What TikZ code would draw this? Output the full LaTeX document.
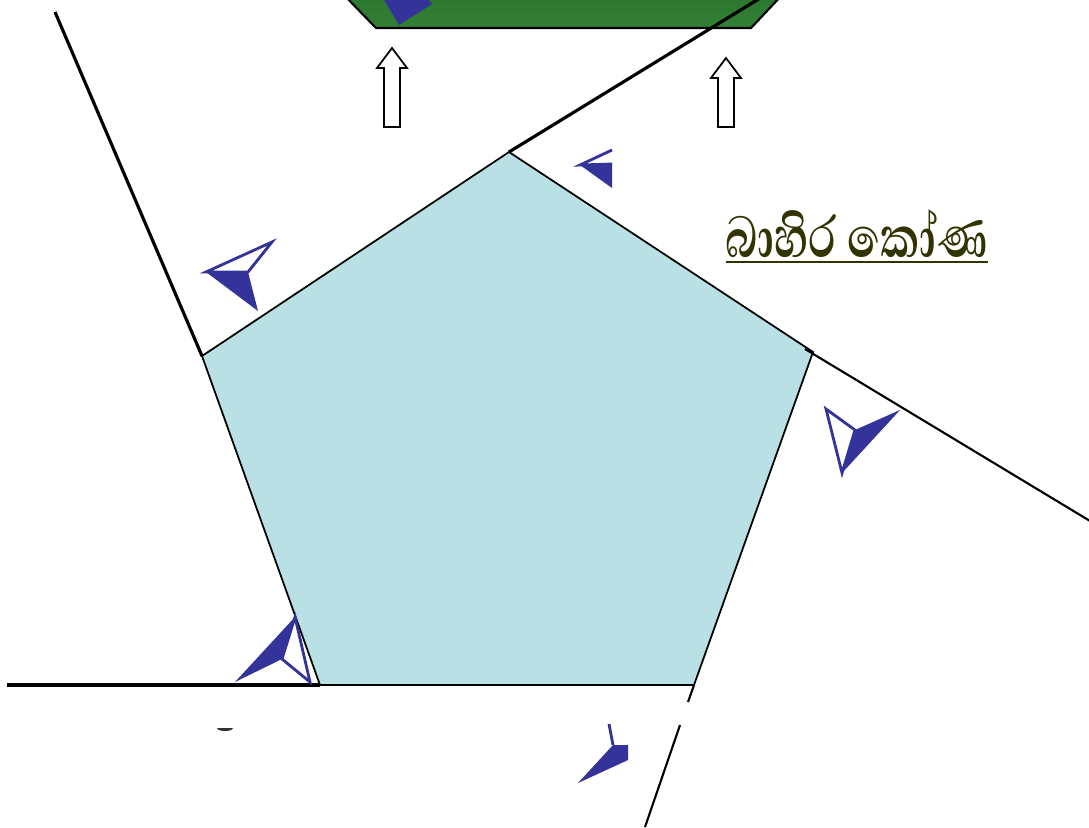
\documentclass[tikz,border=0pt]{standalone}
\usepackage{fontspec}
\newfontfamily\sinhalafont[Script=Sinhala]{Abhaya Libre}
\usetikzlibrary{calc}
\definecolor{colPent}  {RGB}{185,224,228}
\definecolor{colGreen} {RGB}{50,128,52}
\definecolor{colGreenD}{RGB}{44,118,47}
\definecolor{colMark}  {RGB}{51,51,153}
\definecolor{colLabel} {RGB}{51,51,0}
\tikzset{
  edge/.style   = {draw=black, line width=0.5pt},
  ext/.style    = {draw=black, line width=0.9pt},
  extthin/.style= {draw=black, line width=0.6pt},
  mkline/.style = {draw=colMark, line width=0.8pt, line join=miter},
  mkfill/.style = {fill=colMark},
  hollow/.style = {draw=black, fill=white, line width=0.5pt},
  lbl/.style    = {font=\sinhalafont\bfseries\fontsize{21}{25}\selectfont, text=colLabel,
                   inner sep=0pt, anchor=base west},
}

\begin{document}
\begin{tikzpicture}[x=0.01cm, y=-0.01cm]

%% ── frame ───────────────────────────────────────────────────────────────────
\clip (0,0) rectangle (1089,827);
\fill[white] (0,0) rectangle (1089,827);

%% ── pentagon corners ────────────────────────────────────────────────────────
\coordinate (pT)  at (509,152);
\coordinate (pR)  at (813,352);
\coordinate (pBR) at (694,685);
\coordinate (pBL) at (320,685);
\coordinate (pL)  at (202,356);

%% ── top tray ────────────────────────────────────────────────────────────────
\shade[top color=colGreenD, bottom color=colGreen]
  (343,-6) -- (376,28) -- (751,28) -- (783,-6) -- cycle;
\draw[line width=0.6pt] (343,-6) -- (376,28) -- (751,28) -- (783,-6);
\fill[colMark] (383,-2) -- (399,25) -- (432,4) -- (427,-2) -- cycle;

%% ── pentagon ────────────────────────────────────────────────────────────────
\fill[colPent] (pT) -- (pR) -- (pBR) -- (pBL) -- (pL) -- cycle;
\draw[edge] (pT) -- (pR) -- (pBR) -- (pBL) -- (pL) -- cycle;

%% ── extended sides ──────────────────────────────────────────────────────────
\coordinate (eL)  at (55,12);
\coordinate (eT)  at (770,-8);
\coordinate (eR)  at (1095,524);
\coordinate (eB)  at (7,685);
\coordinate (eBRa) at (688,702);
\coordinate (eBRb) at (680,725);
\coordinate (eBR) at (645,827);
\draw[ext] (pL) -- (eL);
\draw[ext] (pT) -- (eT);
\draw[extthin] (805,349) -- (eR);
\draw[ext] (pBL) -- (eB);
\draw[extthin] (pBR) -- (eBRa);
\draw[extthin] (eBRb) -- (eBR);

%% ── up arrows ───────────────────────────────────────────────────────────────
\draw[hollow] (392,48) -- (407,68) -- (400,68) -- (400,127) -- (384,127)
  -- (384,68) -- (377,68) -- cycle;
\draw[hollow] (726,58) -- (741,78) -- (734,78) -- (734,127) -- (718,127)
  -- (718,78) -- (711,78) -- cycle;

%% ── angle marks ─────────────────────────────────────────────────────────────
% left corner
\fill[mkfill] (206,272) -- (248,272) -- (258,311) -- cycle;
\draw[mkline] (206,272) -- (272,242) -- (248,272) -- cycle;
% top corner
\fill[mkfill] (580,165) -- (612,164) -- (612,188) -- cycle;
\draw[mkline] (612,150) -- (580,165) -- (612,164);
% right corner
\fill[mkfill] (842,473) -- (855,430) -- (900,410) -- cycle;
\draw[mkline] (842,473) -- (826,409) -- (855,430) -- cycle;
% bottom-left corner
\fill[mkfill] (295,617) -- (282,659) -- (235,682) -- cycle;
\draw[mkline] (295,617) -- (310,682) -- (282,659) -- cycle;
% bottom corner
\fill[mkfill] (578,783) -- (613,745) -- (628,745) -- (628,760) -- cycle;
\draw[mkline] (613,745) -- (609,724);

%% ── scraps at the edges ─────────────────────────────────────────────────────
\fill[black!80] (217,728) arc[start angle=180, end angle=0, x radius=8, y radius=3] -- cycle;
\fill[colMark!80] (1043,-2) arc[start angle=180, end angle=360, x radius=14, y radius=4] -- cycle;

%% ── label ───────────────────────────────────────────────────────────────────
\node[lbl] (title) at (725,257) {\scalebox{0.75}[1]{\underline{බාහිර කෝණ}}};

\end{tikzpicture}
\end{document}
